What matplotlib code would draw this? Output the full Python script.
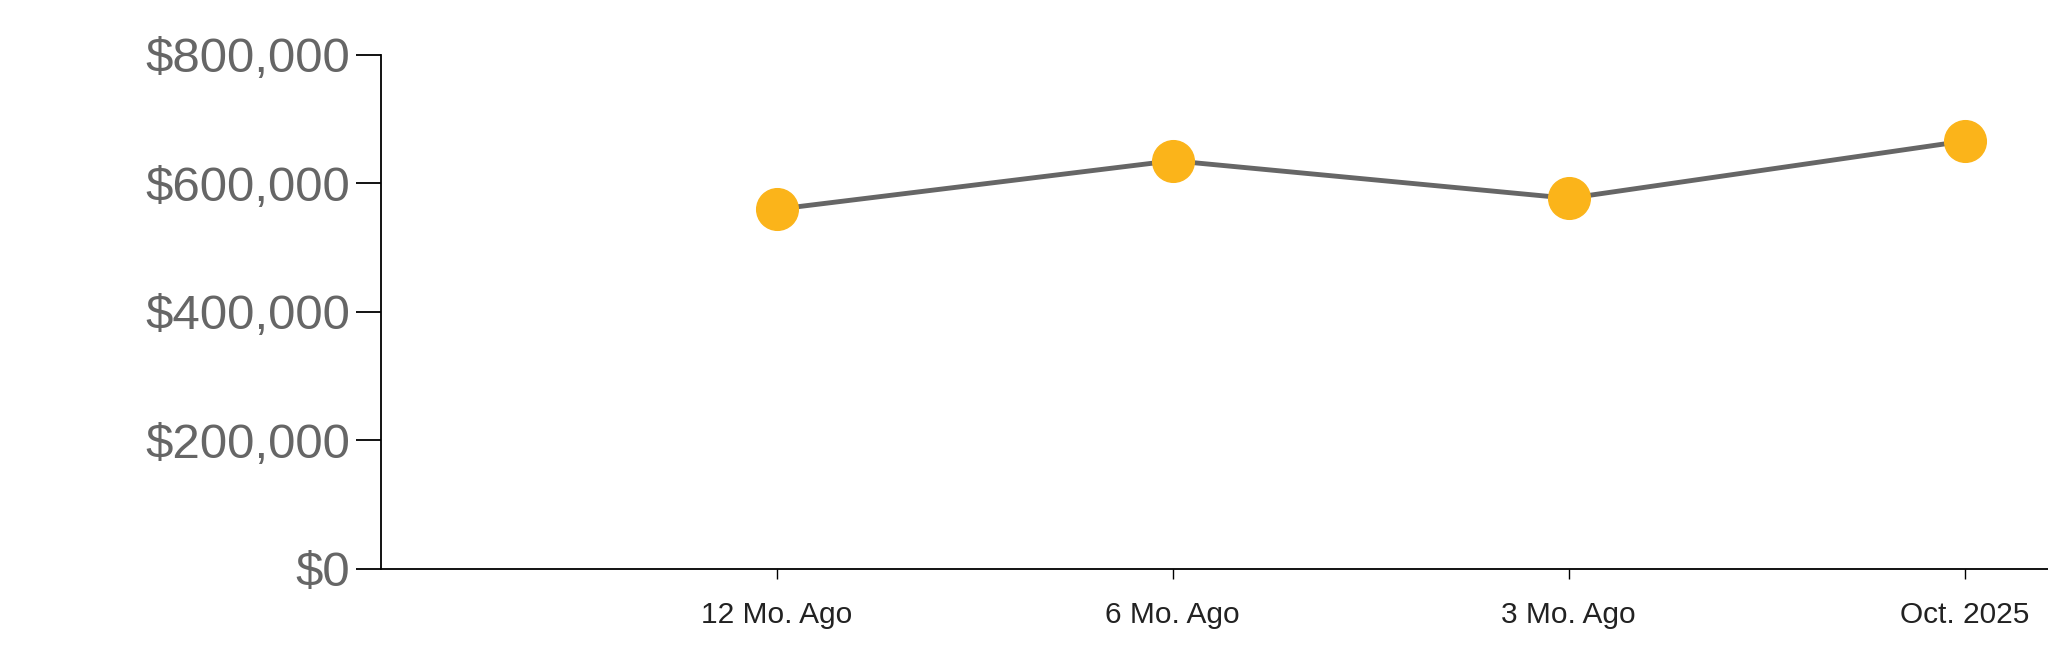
import matplotlib.pyplot as plt
from matplotlib.ticker import FuncFormatter

# values
periods = ["12 Mo. Ago", "6 Mo. Ago", "3 Mo. Ago", "Oct. 2025"]
prices = [559400, 635000, 576500, 665700]
y_ticks = [0, 200000, 400000, 600000, 800000]

plt.rcParams['font.family'] = ['Liberation Sans', 'DejaVu Sans']

fig = plt.figure(figsize=(20.48, 6.63), dpi=100)
ax = fig.add_axes([0.1859, 0.1422, 0.8141, 0.7753])

x_pos = list(range(1, len(periods) + 1))
ax.plot(x_pos, prices, color="#666666", linewidth=3.5, zorder=2)
ax.plot(x_pos, prices, linestyle="none", marker="o", markersize=30,
        markerfacecolor="#FBB41A", markeredgecolor="#FBB41A", zorder=3)

ax.set_xlim(0, 4.21)
ax.set_ylim(0, 800000)
ax.set_xticks(x_pos)
ax.set_xticklabels(periods)
ax.set_yticks(y_ticks)
ax.yaxis.set_major_formatter(FuncFormatter(lambda v, p: "${:,.0f}".format(v)))

for side in ["top", "right"]:
    ax.spines[side].set_visible(False)
for side in ["left", "bottom"]:
    ax.spines[side].set_linewidth(1.3)
    ax.spines[side].set_color("black")

ax.tick_params(axis="y", length=18, width=1.3, pad=4, labelsize=35.5, labelcolor="#666666")
ax.tick_params(axis="x", length=7, width=1.0, pad=16, labelsize=21.5, labelcolor="#222222")

fig.savefig("out.png", dpi=100)
